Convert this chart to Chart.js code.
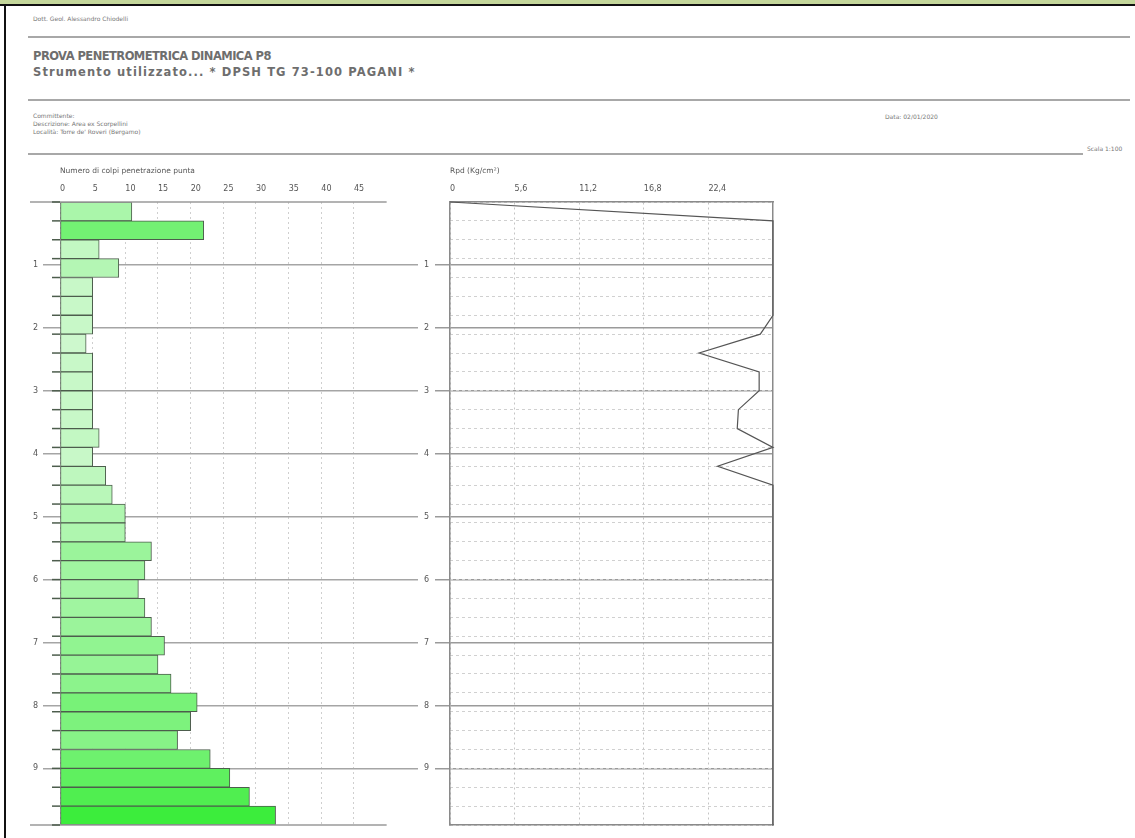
<!DOCTYPE html>
<html>
<head>
<meta charset="utf-8">
<script src="https://cdn.jsdelivr.net/npm/chart.js@4.4.1/dist/chart.umd.min.js"></script>
<style>
	body { margin: 0; width: 1135px; height: 838px; background: #fff; position: relative; overflow: hidden; font-family: "DejaVu Sans", Verdana, sans-serif; color: #777; }
	.abs { position: absolute; white-space: nowrap; }
	.rule { position: absolute; background: #a8a8a8; height: 2px; }
	.small { font-size: 6px; line-height: 8px; }
	.title { font-weight: bold; color: #6e6e6e; line-height: 14px; font-size: 11.5px; }
	canvas { position: absolute; }
</style>
</head>
<body>
	<!-- cornice -->
	<div class="abs" style="left:0;top:0;width:1135px;height:4px;background:#c4d79b"></div>
	<div class="abs" style="left:0;top:4px;width:1135px;height:2px;background:#111"></div>
	<div class="abs" style="left:4px;top:4px;width:2px;height:834px;background:#111"></div>

	<div class="abs small" style="left:33px;top:15px">Dott. Geol. Alessandro Chiodelli</div>
	<div class="rule" style="left:28px;top:36px;width:1102px"></div>

	<div class="abs title" style="left:33px;top:49px;letter-spacing:-0.55px">PROVA PENETROMETRICA DINAMICA P8</div>
	<div class="abs title" style="left:33px;top:65px;letter-spacing:1.1px">Strumento utilizzato... * DPSH TG 73-100 PAGANI *</div>
	<div class="rule" style="left:28px;top:99px;width:1102px"></div>

	<div class="abs small" style="left:33px;top:112px">Committente:</div>
	<div class="abs small" style="left:33px;top:120px">Descrizione: Area ex Scorpellini</div>
	<div class="abs small" style="left:33px;top:128px">Località: Torre de' Roveri (Bergamo)</div>
	<div class="abs small" style="left:885px;top:113px">Data: 02/01/2020</div>
	<div class="rule" style="left:28px;top:153px;width:1055px"></div>
	<div class="abs small" style="left:1087px;top:145px">Scala 1:100</div>

	<canvas id="colpi" width="430" height="690" style="left:0;top:150px"></canvas>
	<canvas id="rpd" width="400" height="690" style="left:390px;top:150px"></canvas>

<script>
// profondita' (m) a fine di ogni tratto di 30 cm
const depths = [0.3, 0.6, 0.9, 1.2, 1.5, 1.8, 2.1, 2.4, 2.7, 3.0, 3.3, 3.6, 3.9, 4.2, 4.5, 4.8, 5.1,
	5.4, 5.7, 6.0, 6.3, 6.6, 6.9, 7.2, 7.5, 7.8, 8.1, 8.4, 8.7, 9.0, 9.3, 9.6, 9.9];
// numero di colpi per tratto
const colpi = [11, 22, 6, 9, 5, 5, 5, 4, 5, 5, 5, 5, 6, 5, 7, 8, 10,
	10, 14, 13, 12, 13, 14, 16, 15, 17, 21, 20, 18, 23, 26, 29, 33];
// Rpd (Kg/cm2), a partire da 0 m (valori tagliati a 28 dalla scala)
const rpdDepths = [0].concat(depths);
const rpd = [0, 28, 28, 28, 28, 28, 28, 26.9, 21.6, 26.8, 26.8, 25.0, 24.9, 28, 23.2, 28, 28,
	28, 28, 28, 28, 28, 28, 28, 28, 28, 28, 28, 28, 28, 28, 28, 28, 28];

const colpiTicks = [0, 5, 10, 15, 20, 25, 30, 35, 40, 45];
const rpdTicks = [0, 5.6, 11.2, 16.8, 22.4];
const depthTicks = [1, 2, 3, 4, 5, 6, 7, 8, 9];

Chart.defaults.font.family = "'DejaVu Sans', Verdana, sans-serif";
Chart.defaults.color = '#666';
Chart.defaults.animation = false;
Chart.defaults.plugins.legend.display = false;
Chart.defaults.plugins.tooltip.enabled = false;

const tickFont = { size: 8 };
const titleFont = { size: 7.5 };

function setTicks(list) {
	return scale => { scale.ticks = list.map(v => ({ value: v })); };
}

// linee sopra e sotto il grafico colpi e tacche ai tratti
const colpiExtras = {
	id: 'colpiExtras',
	afterDraw(chart) {
		const ctx = chart.ctx, xs = chart.scales.x, ys = chart.scales.y;
		ctx.save();
		ctx.strokeStyle = '#9a9a9a';
		ctx.lineWidth = 1.5;
		[ys.getPixelForValue(0), ys.getPixelForValue(9.9)].forEach(py => {
			ctx.beginPath();
			ctx.moveTo(xs.left - 30, py);
			ctx.lineTo(xs.getPixelForValue(50), py);
			ctx.stroke();
		});
		ctx.strokeStyle = '#4d5d4d';
		ctx.lineWidth = 1.5;
		rpdDepths.forEach(d => {
			const py = ys.getPixelForValue(d);
			ctx.beginPath();
			ctx.moveTo(xs.left - 8, py);
			ctx.lineTo(xs.left, py);
			ctx.stroke();
		});
		ctx.restore();
	}
};

new Chart(document.getElementById('colpi'), {
	type: 'bar',
	data: {
		datasets: [{
			data: colpi.map((n, i) => ({ x: n, y: depths[i] - 0.15 })),
			backgroundColor: c => {
				const n = c.raw.x;
				const v = Math.round(225 - 5 * n);
				return 'rgb(' + v + ',' + Math.round(250 - 0.4 * n) + ',' + v + ')';
			},
			borderColor: '#4d5d4d',
			borderWidth: 1,
			borderSkipped: false,
			barPercentage: 1,
			categoryPercentage: 1
		}]
	},
	options: {
		responsive: false,
		devicePixelRatio: 1,
		indexAxis: 'y',
		layout: { padding: { left: 0, top: 0, right: 12, bottom: 15 } },
		scales: {
			x: {
				type: 'linear', position: 'top', min: 0, max: 54.8,
				afterBuildTicks: setTicks(colpiTicks),
				afterFit: s => { s.height = 52; },
				border: { display: false, dash: [2, 3] },
				grid: { color: '#cfcfcf', drawTicks: false },
				ticks: { font: tickFont, color: '#555', align: 'start', padding: 8 },
				title: { display: true, text: 'Numero di colpi penetrazione punta', align: 'start', font: titleFont, color: '#555', padding: { top: 17 } }
			},
			y: {
				type: 'linear', reverse: true, min: 0, max: 9.9, offset: false,
				afterBuildTicks: setTicks(depthTicks),
				afterFit: s => { s.width = 60; },
				border: { display: false },
				grid: { color: '#a5a5a5', lineWidth: 1.5, tickLength: 17, offset: false },
				ticks: { font: tickFont, color: '#555', padding: 5 }
			}
		}
	},
	plugins: [colpiExtras]
});

new Chart(document.getElementById('rpd'), {
	type: 'line',
	data: {
		datasets: [{
			data: rpd.map((v, i) => ({ x: v, y: rpdDepths[i] })),
			borderColor: '#555',
			borderWidth: 1.2,
			pointRadius: 0,
			tension: 0,
			fill: false,
			clip: false
		}]
	},
	options: {
		responsive: false,
		devicePixelRatio: 1,
		indexAxis: 'y',
		layout: { padding: { left: 0, top: 0, right: 17, bottom: 15 } },
		scales: {
			x: {
				type: 'linear', position: 'top', min: 0, max: 28,
				afterBuildTicks: setTicks(rpdTicks),
				afterFit: s => { s.height = 52; },
				border: { display: true, color: '#8a8a8a', width: 1.5, dash: [2, 3] },
				grid: { color: '#c4c4c4', drawTicks: false },
				ticks: { font: tickFont, color: '#555', align: 'start', padding: 8, callback: v => String(v).replace('.', ',') },
				title: { display: true, text: 'Rpd (Kg/cm²)', align: 'start', font: titleFont, color: '#555', padding: { top: 17 } }
			},
			x2: {
				type: 'linear', position: 'bottom', min: 0, max: 28,
				afterFit: s => { s.height = 0; },
				border: { display: true, color: '#8a8a8a', width: 1.5 },
				grid: { display: false },
				ticks: { display: false }
			},
			y: {
				type: 'linear', position: 'left', reverse: true, min: 0, max: 9.9,
				afterBuildTicks: setTicks(depthTicks),
				afterFit: s => { s.width = 60; },
				border: { display: true, color: '#8a8a8a', width: 1.5 },
				grid: { color: '#9a9a9a', lineWidth: 1.5, tickLength: 15 },
				ticks: { font: tickFont, color: '#555', padding: 6 }
			},
			y2: {
				type: 'linear', position: 'right', reverse: true, min: 0, max: 9.9,
				afterBuildTicks: setTicks(rpdDepths),
				afterFit: s => { s.width = 0; },
				border: { display: true, color: '#8a8a8a', width: 1.5, dash: [3, 3] },
				grid: { color: '#d0d0d0', drawTicks: false },
				ticks: { display: false }
			}
		}
	}
});
</script>
</body>
</html>
